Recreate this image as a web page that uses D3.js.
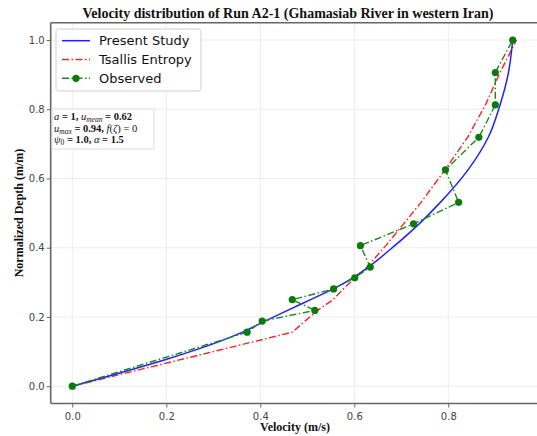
<!DOCTYPE html>
<html>
<head>
<meta charset="utf-8">
<script src="https://cdn.jsdelivr.net/npm/d3@7"></script>
<style>
  html, body { margin: 0; background: #fff; overflow: hidden; }
  svg { display: block; }
</style>
</head>
<body>
<main></main>
<script>
const WIDTH = 537;
const HEIGHT = 436;

// depths (normalized) shared by all three series
const depth = [0, 0.156, 0.188, 0.219, 0.25, 0.281, 0.313, 0.344, 0.406, 0.469, 0.531, 0.625, 0.719, 0.8125, 0.906, 1.0];
const observed = [0, 0.372, 0.404, 0.516, 0.468, 0.556, 0.601, 0.634, 0.613, 0.726, 0.822, 0.794, 0.865, 0.900, 0.900, 0.937];
const presentStudy = [0, 0.362, 0.410, 0.458, 0.507, 0.555, 0.597, 0.630, 0.686, 0.738, 0.783, 0.842, 0.885, 0.910, 0.928, 0.937];
const tsallis = [0, 0.468, 0.495, 0.522, 0.555, 0.577, 0.601, 0.627, 0.667, 0.705, 0.742, 0.793, 0.841, 0.879, 0.910, 0.945];

const xTicks = [0, 0.2, 0.4, 0.6, 0.8];
const yTicks = [0, 0.2, 0.4, 0.6, 0.8, 1.0];
const legendNames = ["Present Study", "Tsallis Entropy", "Observed"];

const title = "Velocity distribution of Run A2-1 (Ghamasiab River in western Iran)";

// plot frame (right edge falls outside the picture)
const plotLeft = 50.7, plotTop = 22.7, plotBottom = 403.5;

const x = d3.scaleLinear().domain([0, 0.8]).range([72.3, 448.3]);
const y = d3.scaleLinear().domain([-0.05, 1.05]).range([plotBottom, plotTop]);
const plotRight = WIDTH + 2;

const svg = d3.select("main").append("svg")
    .attr("width", WIDTH)
    .attr("height", HEIGHT);

svg.append("rect").attr("width", WIDTH).attr("height", HEIGHT).attr("fill", "white");

// grid
const grid = svg.append("g").attr("stroke", "#ebebeb").attr("stroke-width", 0.9);
grid.selectAll(".gx").data(xTicks).join("line")
    .attr("x1", d => x(d)).attr("x2", d => x(d))
    .attr("y1", plotTop).attr("y2", plotBottom);
grid.selectAll(".gy").data(yTicks).join("line")
    .attr("x1", plotLeft).attr("x2", plotRight)
    .attr("y1", d => y(d)).attr("y2", d => y(d));

// axes
const xAxis = d3.axisBottom(x).tickValues(xTicks).tickFormat(d3.format(".1f")).tickSize(4).tickSizeOuter(0);
const yAxis = d3.axisLeft(y).tickValues(yTicks).tickFormat(d3.format(".1f")).tickSize(4).tickSizeOuter(0);

const gx = svg.append("g").attr("transform", `translate(0,${plotBottom})`).call(xAxis);
const gy = svg.append("g").attr("transform", `translate(${plotLeft},0)`).call(yAxis);
[gx, gy].forEach(g => {
    g.select(".domain").remove();
    g.selectAll(".tick line").attr("stroke", "#666").attr("stroke-width", 1);
    g.selectAll(".tick text")
     .attr("fill", "#444")
     .style("font-family", "DejaVu Sans")
     .style("font-size", "10px");
});
gx.selectAll(".tick text").attr("dy", "0.95em");
gy.selectAll(".tick text").attr("x", -6);

// frame
const frame = svg.append("g").attr("stroke", "#666").attr("stroke-width", 1.6).attr("fill", "none");
frame.append("line").attr("x1", plotLeft).attr("x2", plotLeft).attr("y1", plotTop).attr("y2", plotBottom);
frame.append("line").attr("x1", plotLeft).attr("x2", plotRight).attr("y1", plotBottom).attr("y2", plotBottom);
frame.append("line").attr("x1", plotLeft).attr("x2", plotRight).attr("y1", plotTop).attr("y2", plotTop);

// series
const line = d3.line().x(d => x(d[0])).y(d => y(d[1]));

svg.append("path")
    .datum(d3.zip(tsallis, depth))
    .attr("d", line)
    .attr("fill", "none")
    .attr("stroke", "#ff2020")
    .attr("stroke-width", 1.4)
    .attr("stroke-dasharray", "7,2.5,1.5,2.5");

svg.append("path")
    .datum(d3.zip(presentStudy, depth))
    .attr("d", line.curve(d3.curveMonotoneY))
    .attr("fill", "none")
    .attr("stroke", "#2020ff")
    .attr("stroke-width", 1.5);

line.curve(d3.curveLinear);

svg.append("path")
    .datum(d3.zip(observed, depth))
    .attr("d", line)
    .attr("fill", "none")
    .attr("stroke", "#1a8a1a")
    .attr("stroke-width", 1.4)
    .attr("stroke-dasharray", "7,2.5,1.5,2.5");

svg.selectAll(".obs").data(d3.zip(observed, depth)).join("circle")
    .attr("cx", d => x(d[0]))
    .attr("cy", d => y(d[1]))
    .attr("r", 3.6)
    .attr("fill", "#0a7a0a");

// legend
const legend = svg.append("g");
legend.append("rect")
    .attr("x", 56).attr("y", 29).attr("width", 145).attr("height", 62).attr("rx", 2.5)
    .attr("fill", "white").attr("fill-opacity", 0.85)
    .attr("stroke", "#d0d0d0").attr("stroke-width", 1);

const legendStyles = [
    { color: "#2020ff", dash: null, marker: false },
    { color: "#ff2020", dash: "7,2.5,1.5,2.5", marker: false },
    { color: "#1a8a1a", dash: "7,2.5,1.5,2.5", marker: true }
];

legendNames.forEach((name, i) => {
    var ly = 40.7 + i * 18.8;
    var s = legendStyles[i];
    legend.append("line")
          .attr("x1", 62).attr("x2", 90).attr("y1", ly).attr("y2", ly)
          .attr("stroke", s.color).attr("stroke-width", 1.5)
          .attr("stroke-dasharray", s.dash);
    if (s.marker) {
        legend.append("circle").attr("cx", 76).attr("cy", ly).attr("r", 3.6).attr("fill", "#0a7a0a");
    }
    legend.append("text")
          .attr("x", 99).attr("y", ly).attr("dy", "0.36em")
          .style("font-family", "DejaVu Sans")
          .style("font-size", "13px")
          .attr("fill", "#111")
          .text(name);
});

// parameter annotation
const note = svg.append("g");
note.append("rect")
    .attr("x", 52).attr("y", 109).attr("width", 102).attr("height", 40)
    .attr("fill", "white").attr("stroke", "#dddddd").attr("stroke-width", 1);

const noteLines = [
    [["a", "i"], [" = 1, ", "b"], ["u", "i"], ["mean", "s"], [" = 0.62", "b"]],
    [["u", "i"], ["max", "s"], [" = 0.94, ", "b"], ["f", "i"], ["(", "n"], ["ζ", "i"], [")", "n"], [" = 0", "n"]],
    [["ψ", "i"], ["0", "s0"], [" = 1.0, ", "b"], ["α", "i"], [" = 1.5", "b"]]
];

noteLines.forEach((parts, i) => {
    var t = note.append("text")
        .attr("x", 54).attr("y", 120 + i * 11.6)
        .style("font-family", "Liberation Serif")
        .style("font-size", "10.5px")
        .attr("fill", "#111");
    var sub = false;
    parts.forEach(p => {
        var ts = t.append("tspan").text(p[0]);
        if (p[1] == "i") ts.style("font-style", "italic");
        if (p[1] == "b") ts.style("font-weight", "bold");
        if (p[1] == "s" || p[1] == "s0") {
            ts.style("font-size", "7.5px").attr("dy", 2);
            if (p[1] == "s") ts.style("font-style", "italic");
            sub = true;
        } else if (sub) {
            // move baseline back up after a subscript
            ts.attr("dy", -2);
            sub = false;
        }
    });
});

// title and axis labels
svg.append("text")
    .attr("x", 288).attr("y", 17.5)
    .attr("text-anchor", "middle")
    .style("font-family", "Liberation Serif")
    .style("font-weight", "bold")
    .style("font-size", "14px")
    .attr("fill", "#111")
    .text(title);

svg.append("text")
    .attr("x", 295).attr("y", 431)
    .attr("text-anchor", "middle")
    .style("font-family", "Liberation Serif")
    .style("font-weight", "bold")
    .style("font-size", "12px")
    .attr("fill", "#111")
    .text("Velocity (m/s)");

svg.append("text")
    .attr("transform", "translate(23,213) rotate(-90)")
    .attr("text-anchor", "middle")
    .style("font-family", "Liberation Serif")
    .style("font-weight", "bold")
    .style("font-size", "12px")
    .attr("fill", "#111")
    .text("Normalized Depth (m/m)");
</script>
</body>
</html>
